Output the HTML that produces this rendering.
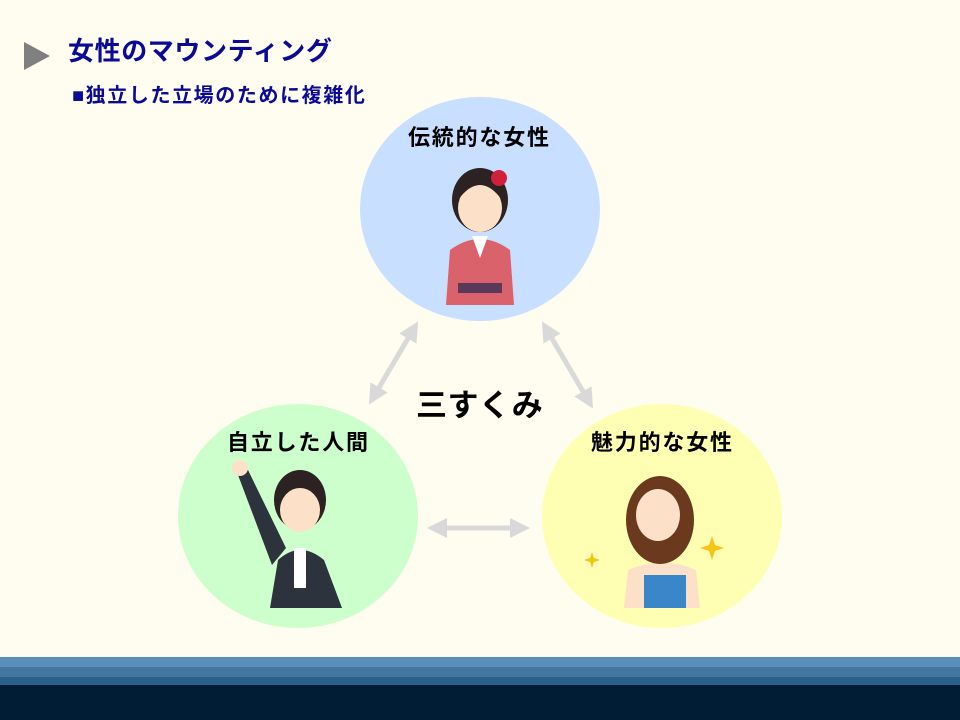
<!DOCTYPE html>
<html><head><meta charset="utf-8"><style>
body{margin:0;width:960px;height:720px;overflow:hidden;background:#fffdf0;font-family:"Liberation Sans","Noto Sans CJK JP",sans-serif;position:relative}
.t{position:absolute;white-space:nowrap;font-weight:bold}
</style></head><body>
<svg width="960" height="720" style="position:absolute;left:0;top:0">
<defs><marker id="a" markerWidth="4" markerHeight="4" refX="2" refY="2" orient="auto-start-reverse" markerUnits="strokeWidth"><path d="M0,0L4,2L0,4Z" fill="#d9d9d9"/></marker></defs>
<polygon points="24,42 50,56 24,70" fill="#808080"/>
<ellipse cx="480" cy="209" rx="120" ry="112" fill="#c9dfff"/>
<ellipse cx="298" cy="516" rx="120" ry="112" fill="#ccffcc"/>
<ellipse cx="662" cy="516" rx="120" ry="112" fill="#ffffb3"/>
<g stroke="#d9d9d9" stroke-width="5" marker-start="url(#a)" marker-end="url(#a)">
<line x1="413" y1="330" x2="374" y2="396"/>
<line x1="547" y1="330" x2="588" y2="400"/>
<line x1="437" y1="528" x2="520" y2="528"/>
</g>
<path d="M446,305 L450,250 Q480,228 510,250 L514,305Z" fill="#d9626b"/>
<rect x="458" y="283" width="44" height="10" fill="#5a3a5a"/>
<path d="M472,236 L480,258 L488,236" fill="#fff"/>
<ellipse cx="480" cy="200" rx="28" ry="32" fill="#2d2222"/>
<ellipse cx="480" cy="208" rx="22" ry="24" fill="#fde0c8"/>
<path d="M458,200 Q480,170 502,200 L500,188 Q480,165 460,188Z" fill="#2d2222"/>
<circle cx="499" cy="178" r="8" fill="#d0203a"/>
<path d="M270,608 L278,560 Q300,540 324,560 L342,608Z" fill="#2c333d"/>
<path d="M272,565 L238,475 L248,470 L286,548Z" fill="#2c333d"/>
<circle cx="240" cy="468" r="8" fill="#fde0c8"/>
<rect x="294" y="548" width="12" height="40" fill="#fff"/>
<ellipse cx="300" cy="500" rx="26" ry="30" fill="#2d2222"/>
<ellipse cx="300" cy="510" rx="20" ry="22" fill="#fde0c8"/>
<path d="M628,570 Q662,555 696,570 L700,608 L624,608Z" fill="#fde0c8"/>
<rect x="644" y="575" width="42" height="33" fill="#3a86c8"/>
<ellipse cx="660" cy="520" rx="34" ry="44" fill="#6b3a1e"/>
<ellipse cx="658" cy="515" rx="22" ry="26" fill="#fde0c8"/>
<path d="M712,536 l3,9 l9,3 l-9,3 l-3,9 l-3,-9 l-9,-3 l9,-3z" fill="#f5c518"/>
<path d="M592,552 l2,6 l6,2 l-6,2 l-2,6 l-2,-6 l-6,-2 l6,-2z" fill="#f5c518"/>
<rect x="0" y="657" width="960" height="10" fill="#5a8fbb"/>
<rect x="0" y="667" width="960" height="10" fill="#4277a0"/>
<rect x="0" y="677" width="960" height="8" fill="#286089"/>
<rect x="0" y="685" width="960" height="35" fill="#001d36"/>
</svg>
<div class="t" style="left:68px;top:31px;font-size:26px;letter-spacing:0.6px;color:#0a0a96">女性のマウンティング</div>
<div class="t" style="left:72px;top:79px;font-size:20px;letter-spacing:1.6px;color:#0a0a96">■独立した立場のために複雑化</div>
<div class="t" style="left:408px;top:120px;font-size:22px;letter-spacing:1.8px;color:#000">伝統的な女性</div>
<div class="t" style="left:227px;top:425px;font-size:22px;letter-spacing:1.8px;color:#000">自立した人間</div>
<div class="t" style="left:591px;top:425px;font-size:22px;letter-spacing:1.8px;color:#000">魅力的な女性</div>
<div class="t" style="left:416px;top:380px;font-size:31px;letter-spacing:0.5px;color:#000">三すくみ</div>
</body></html>
